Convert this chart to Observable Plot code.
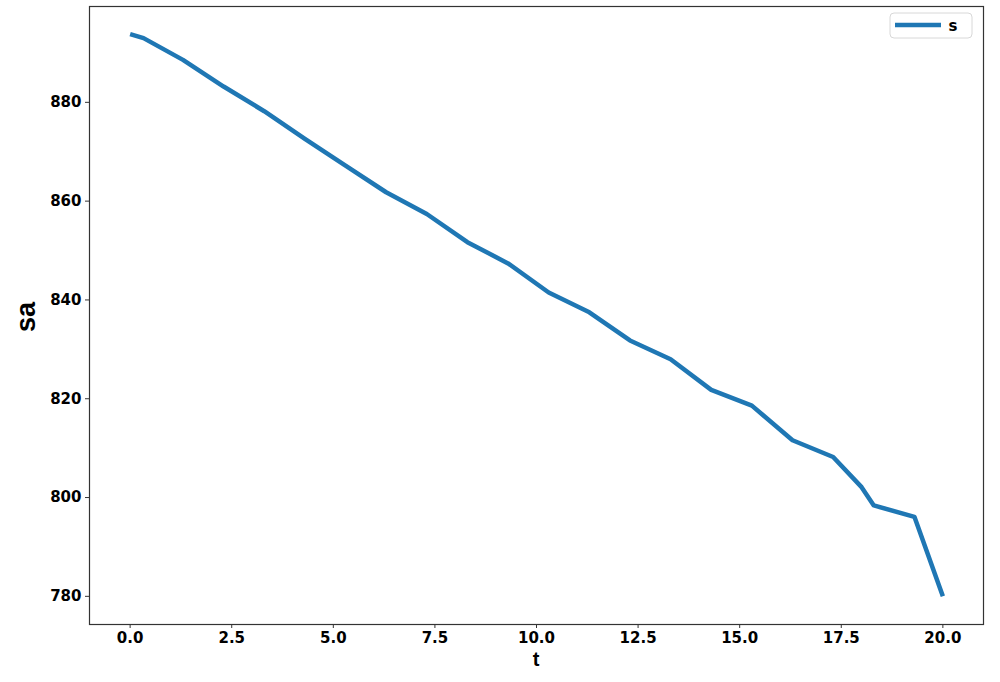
<!DOCTYPE html>
<html>
<head>
<meta charset="utf-8">
<script src="https://cdn.jsdelivr.net/npm/d3@7"></script>
<script src="https://cdn.jsdelivr.net/npm/@observablehq/plot@0.6"></script>
<style>
  html, body { margin: 0; padding: 0; background: #fff; }
  #chart { width: 1000px; height: 682px; }
</style>
</head>
<body>
<div id="chart"></div>
<script>
const tValues = [0, 0.33, 1.3, 2.3, 3.3, 4.3, 5.3, 6.3, 7.3, 8.3, 9.3, 10.3, 11.3, 12.3, 13.3, 14.3, 15.3, 16.3, 17.3, 18.0, 18.3, 19.3, 20.0];
const saValues = [893.8, 893.0, 888.6, 883.2, 878.2, 872.6, 867.2, 861.8, 857.4, 851.7, 847.4, 841.5, 837.5, 831.8, 828.0, 821.8, 818.6, 811.6, 808.2, 802.1, 798.4, 796.1, 780.0];
const xTicks = [0, 2.5, 5, 7.5, 10, 12.5, 15, 17.5, 20];
const yTicks = [780, 800, 820, 840, 860, 880];
const seriesName = "s";
const xLabel = "t";
const yLabel = "sa";

const data = tValues.map((t, i) => ({t, sa: saValues[i]}));

const W = 1000, H = 682;
const mL = 89, mR = 17, mT = 6, mB = 58;
const tickFont = "'DejaVu Sans', Verdana, sans-serif";
const labelFont = "'Liberation Sans Narrow', 'Arial Narrow', 'Liberation Sans', Arial, sans-serif";

const chart = Plot.plot({
  width: W,
  height: H,
  marginLeft: mL,
  marginRight: mR,
  marginTop: mT,
  marginBottom: mB,
  style: {fontFamily: tickFont, background: "white", color: "#000"},
  x: {domain: [-1, 21]},
  y: {domain: [774.3, 899.4]},
  marks: [
    Plot.frame({stroke: "#333", strokeWidth: 1.2}),
    Plot.axisX({ticks: xTicks, tickFormat: d3.format(".1f"), tickSize: 4, tickPadding: 4, fontSize: 15, fontWeight: "bold", label: null, stroke: "#333"}),
    Plot.axisY({ticks: yTicks, tickFormat: d3.format("d"), tickSize: 4, tickPadding: 4, fontSize: 15, fontWeight: "bold", label: null, stroke: "#333"}),
    Plot.line(data, {x: "t", y: "sa", stroke: "#1f77b4", strokeWidth: 4.5, strokeLinejoin: "round", strokeLinecap: "butt"})
  ]
});

document.getElementById("chart").appendChild(chart);

const svg = d3.select(chart);
// axis titles
svg.append("text")
  .attr("x", mL + (W - mL - mR) / 2)
  .attr("y", 666)
  .attr("text-anchor", "middle")
  .attr("font-family", labelFont)
  .attr("font-size", 20)
  .attr("font-weight", "bold")
  .attr("fill", "#000")
  .text(xLabel);
svg.append("text")
  .attr("transform", `translate(35,317) rotate(-90)`)
  .attr("text-anchor", "middle")
  .attr("font-family", labelFont)
  .attr("font-size", 27)
  .attr("font-weight", "bold")
  .attr("fill", "#000")
  .text(yLabel);

// legend
const lg = svg.append("g");
lg.append("rect")
  .attr("x", 890).attr("y", 13).attr("width", 82).attr("height", 25)
  .attr("rx", 4).attr("fill", "white").attr("stroke", "#d8d8d8");
lg.append("line")
  .attr("x1", 895).attr("x2", 941).attr("y1", 25).attr("y2", 25)
  .attr("stroke", "#1f77b4").attr("stroke-width", 4.5);
lg.append("text")
  .attr("x", 953).attr("y", 31)
  .attr("font-family", tickFont)
  .attr("font-size", 15).attr("font-weight", "bold").attr("fill", "#000")
  .text(seriesName);
</script>
</body>
</html>
